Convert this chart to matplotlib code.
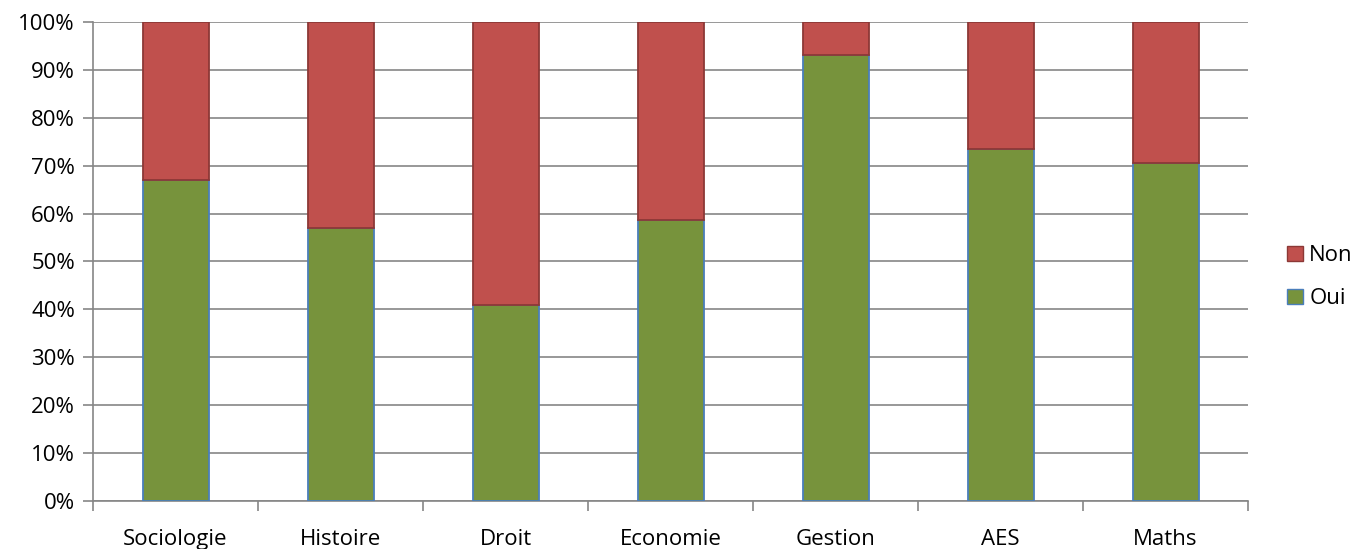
import matplotlib
matplotlib.use('Agg')
import matplotlib.pyplot as plt
from matplotlib.ticker import PercentFormatter, FixedLocator, NullFormatter
from matplotlib.patches import Patch
import numpy as np

categories = ['Sociologie', 'Histoire', 'Droit', 'Economie', 'Gestion', 'AES', 'Maths']
oui = [67.0, 57.0, 41.0, 58.7, 93.0, 73.5, 70.6]
non = [100 - v for v in oui]

plt.rcParams['font.family'] = ['Open Sans', 'DejaVu Sans']

fig = plt.figure(figsize=(13.62, 5.49), dpi=100)
ax = fig.add_axes([0.0683, 0.0874, 0.848, 0.8726])

x = np.arange(len(categories))
green, red = '#77933c', '#c0504d'
ax.bar(x, oui, width=0.4, color=green, edgecolor='#4a7ebb', linewidth=1.3, zorder=3)
ax.bar(x, non, width=0.4, bottom=oui, color=red, edgecolor='#8c3836', linewidth=1.3, zorder=3)

ax.set_xlim(-0.5, len(categories) - 0.5)
ax.set_ylim(0, 100)
ax.yaxis.set_major_locator(FixedLocator(np.arange(0, 101, 10)))
ax.yaxis.set_major_formatter(PercentFormatter(decimals=0))
ax.yaxis.grid(True, color='#868686', linewidth=1.2, zorder=0)
ax.set_axisbelow(True)

# category labels centered, ticks on boundaries
ax.set_xticks(x)
ax.set_xticklabels(categories)
ax.tick_params(axis='x', length=0, labelsize=16, pad=20)
ax.set_xticks(np.arange(-0.5, len(categories)), minor=True)
ax.xaxis.set_minor_formatter(NullFormatter())
ax.tick_params(axis='x', which='minor', length=7, color='#868686', width=1.2)
ax.tick_params(axis='y', length=7, color='#868686', width=1.2, labelsize=16, pad=6)

for side in ['top', 'right']:
    ax.spines[side].set_visible(False)
for side in ['left', 'bottom']:
    ax.spines[side].set_color('#868686')
    ax.spines[side].set_linewidth(1.2)

handles = [Patch(facecolor=red, edgecolor='#8c3836', label='Non'),
           Patch(facecolor=green, edgecolor='#4a7ebb', label='Oui')]
fig.legend(handles=handles, loc='center left', bbox_to_anchor=(0.945, 0.495),
           frameon=False, fontsize=16, handlelength=0.7, handleheight=0.7,
           handletextpad=0.3, labelspacing=1.0, borderaxespad=0, borderpad=0)

fig.savefig('out.png', dpi=100)
